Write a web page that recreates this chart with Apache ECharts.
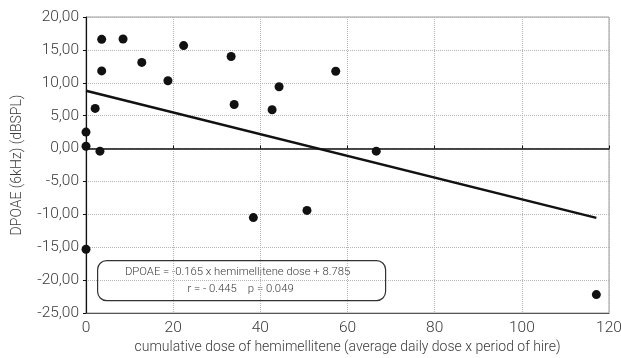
<!DOCTYPE html>
<html>
<head>
<meta charset="utf-8">
<script src="https://cdn.jsdelivr.net/npm/echarts@6/dist/echarts.min.js"></script>
<style>
html,body{margin:0;padding:0;background:#fff;}
#c{width:621px;height:358px;}
</style>
</head>
<body>
<div id="c"></div>
<script>
// cumulative dose of hemimellitene (x) and DPOAE 6kHz (y)
const doseX  = [0, 0, 0, 2.1, 3.2, 3.6, 3.6, 8.5, 12.8, 18.8, 22.4, 33.3, 34.0, 38.4, 42.7, 44.3, 50.7, 57.3, 66.6, 117.1];
const dpoaeY = [2.5, 0.35, -15.3, 6.1, -0.4, 11.8, 16.6, 16.65, 13.1, 10.3, 15.65, 14.0, 6.7, -10.5, 5.9, 9.4, -9.4, 11.75, -0.4, -22.2];
// regression line end points
const fitX = [0, 117.1];
const fitY = [8.785, -10.54];
const xTicks = [0, 20, 40, 60, 80, 100, 120];
const yTicks = [-25, -20, -15, -10, -5, 0, 5, 10, 15, 20];
const eqLine1 = 'DPOAE = -0.165 x hemimellitene dose + 8.785';
const eqLine2 = 'r = - 0.445    p = 0.049';
const xTitle = 'cumulative dose of hemimellitene (average daily dose x period of hire)';
const yTitle = 'DPOAE (6kHz) (dBSPL)';

const FONT = "Roboto, 'Liberation Sans', sans-serif";
const TXT = '#3a3a3a';

const chart = echarts.init(document.getElementById('c'), null, {renderer: 'canvas'});
const pts = doseX.map((x, i) => [x, dpoaeY[i]]);
const fit = fitX.map((x, i) => [x, fitY[i]]);

chart.setOption({
  animation: false,
  backgroundColor: '#fff',
  grid: {left: 86, right: 12, top: 17, bottom: 45, containLabel: false, outerBoundsMode: 'none',
         show: true, borderColor: '#9a9a9a', borderWidth: 1, backgroundColor: 'transparent'},
  xAxis: [{
    type: 'value', position: 'bottom',
    min: xTicks[0], max: xTicks[xTicks.length - 1], interval: 20,
    axisLine: {onZero: false, lineStyle: {color: '#555', width: 1.2}},
    axisTick: {show: false},
    axisLabel: {margin: 7, color: TXT, fontFamily: FONT, fontWeight: 300, fontSize: 15.5},
    splitLine: {show: true, lineStyle: {color: '#b5b5b5', type: [1, 1], width: 1}},
    name: xTitle, nameLocation: 'middle', nameGap: 25,
    nameTextStyle: {color: TXT, fontFamily: FONT, fontWeight: 300, fontSize: 14}
  }, {
    type: 'value', position: 'top',
    min: xTicks[0], max: xTicks[xTicks.length - 1], interval: 20,
    axisLine: {onZero: true, lineStyle: {color: '#111', width: 1.5}},
    axisTick: {show: true, length: 3, lineStyle: {color: '#111', width: 1}},
    axisLabel: {show: false},
    splitLine: {show: false}
  }],
  yAxis: {
    type: 'value',
    min: yTicks[0], max: yTicks[yTicks.length - 1], interval: 5,
    axisLine: {show: true, onZero: false, lineStyle: {color: '#111', width: 1.2}},
    axisTick: {show: true, length: 3, lineStyle: {color: '#111'}},
    axisLabel: {margin: 7, color: TXT, fontFamily: FONT, fontWeight: 300, fontSize: 15.5,
      formatter: v => v.toFixed(2).replace('.', ',')},
    splitLine: {show: true, lineStyle: {color: '#b5b5b5', type: [1, 1], width: 1}},
    name: yTitle, nameLocation: 'middle', nameGap: 62,
    nameTextStyle: {color: TXT, fontFamily: FONT, fontWeight: 300, fontSize: 14}
  },
  series: [{
    type: 'line', data: fit, xAxisIndex: 0, symbol: 'none',
    lineStyle: {color: '#111', width: 2.5}, z: 3
  }, {
    type: 'scatter', data: pts, xAxisIndex: 0, symbol: 'circle', symbolSize: 9,
    itemStyle: {color: '#111', opacity: 1}, z: 4, clip: false
  }],
  graphic: [{
    type: 'group', left: 97, top: 260,
    children: [{
      type: 'rect', shape: {x: 0, y: 0, width: 288, height: 40, r: 9},
      style: {fill: '#fff', stroke: '#333', lineWidth: 1.2}
    }, {
      type: 'text', x: 140, y: 12,
      style: {text: eqLine1, fill: TXT, font: "300 11.3px " + FONT, textAlign: 'center', textVerticalAlign: 'middle'}
    }, {
      type: 'text', x: 143, y: 29,
      style: {text: eqLine2, fill: TXT, font: "300 11.3px " + FONT, textAlign: 'center', textVerticalAlign: 'middle'}
    }]
  }]
});
</script>
</body>
</html>
